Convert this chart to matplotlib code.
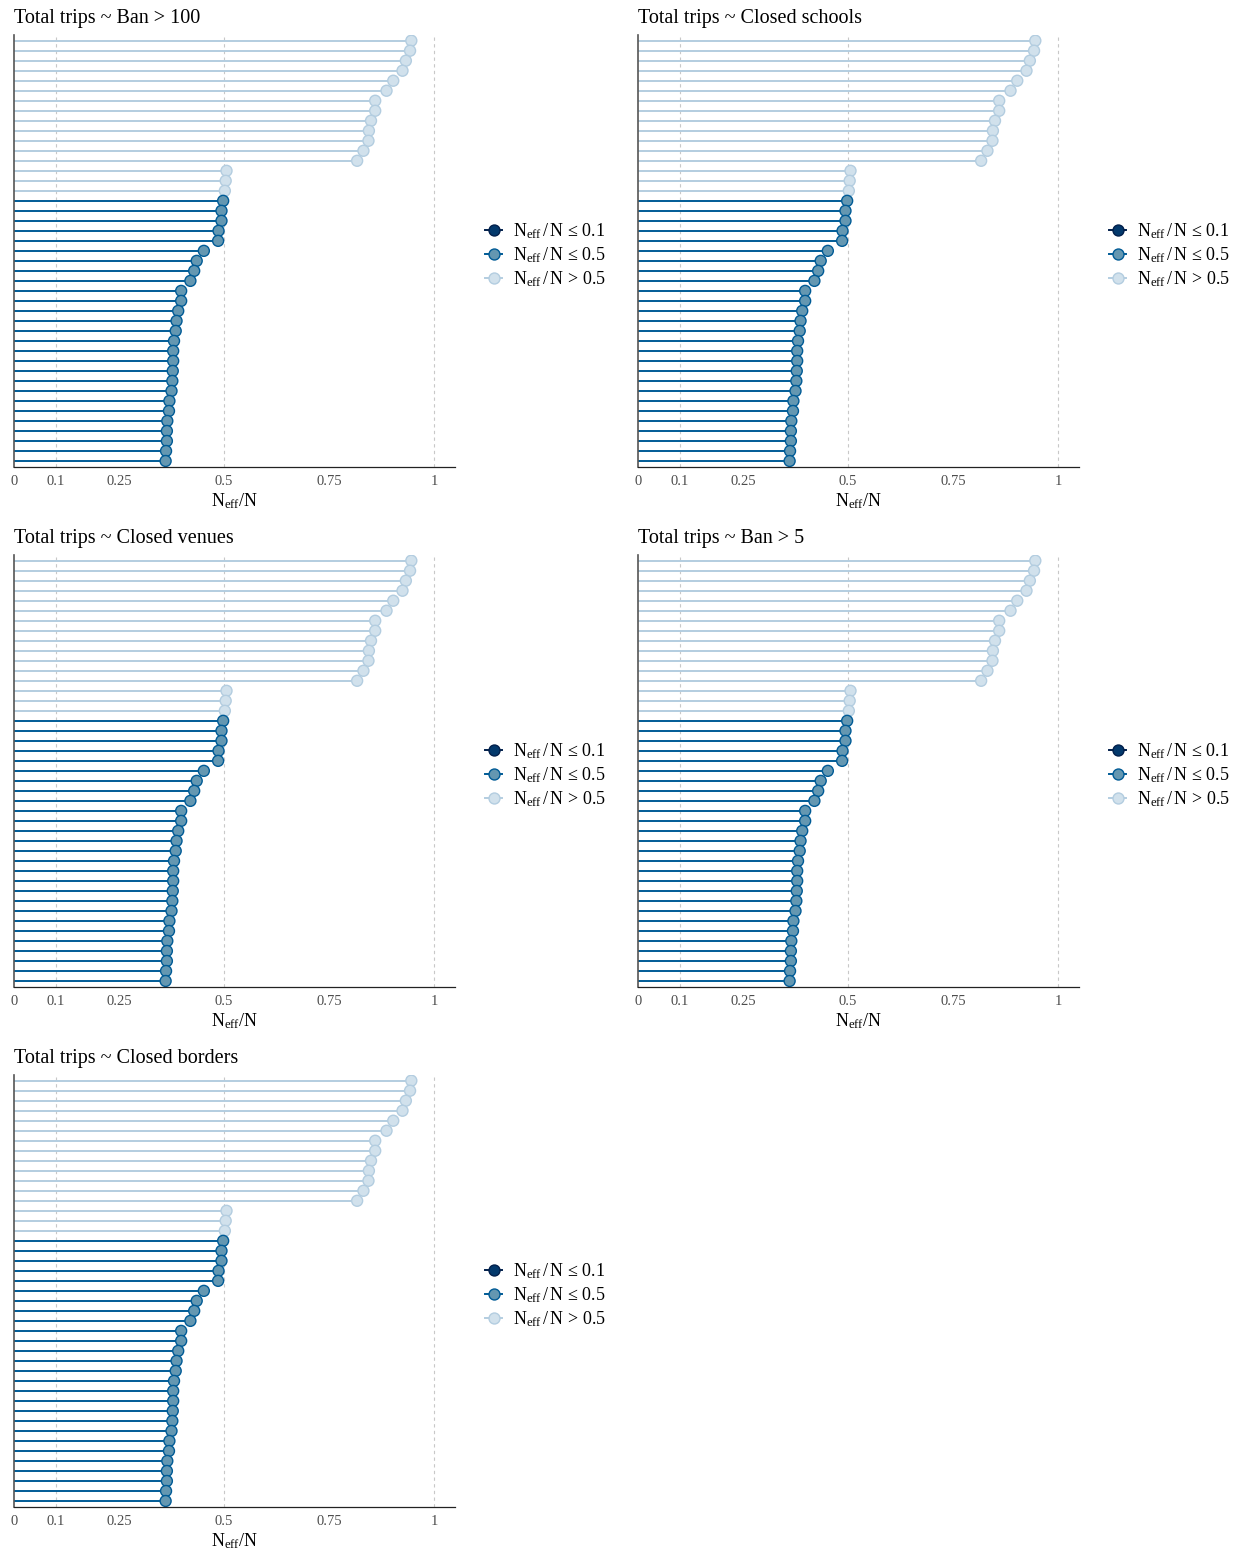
import matplotlib
matplotlib.use('Agg')
import matplotlib.pyplot as plt
from matplotlib.lines import Line2D
import numpy as np

plt.rcParams['font.family'] = ['Liberation Serif', 'DejaVu Serif']
plt.rcParams['mathtext.fontset'] = 'custom'
plt.rcParams['mathtext.rm'] = 'Liberation Serif'
plt.rcParams['mathtext.it'] = 'Liberation Serif:italic'

# titulos dos paineis
titles = ['Total trips ~ Ban > 100', 'Total trips ~ Closed schools',
          'Total trips ~ Closed venues', 'Total trips ~ Ban > 5',
          'Total trips ~ Closed borders']

# razao Neff/N por parametro (de cima para baixo), igual em todos os modelos
ratios = [0.946, 0.943, 0.933, 0.925, 0.903, 0.887, 0.860, 0.860, 0.850, 0.845,
          0.844, 0.832, 0.817, 0.506, 0.504, 0.502, 0.498, 0.494, 0.494, 0.487,
          0.486, 0.452, 0.435, 0.429, 0.420, 0.398, 0.398, 0.391, 0.387, 0.385,
          0.381, 0.379, 0.379, 0.378, 0.377, 0.375, 0.370, 0.369, 0.365, 0.364,
          0.364, 0.362, 0.361]

tick_vals = [0, 0.1, 0.25, 0.5, 0.75, 1]
tick_labels = ['0', '0.1', '0.25', '0.5', '0.75', '1']
legend_labels = [r'N$_{\mathrm{eff}}\,$/$\,$N ≤ 0.1', r'N$_{\mathrm{eff}}\,$/$\,$N ≤ 0.5',
                 r'N$_{\mathrm{eff}}\,$/$\,$N > 0.5']

# cores (esquema azul)
fill = {'low': '#03396c', 'mid': '#6497b1', 'high': '#d1e1ec'}
edge = {'low': '#011f4b', 'mid': '#005b96', 'high': '#b3cde0'}


def rating(r):
    if r <= 0.1:
        return 'low'
    if r <= 0.5:
        return 'mid'
    return 'high'


W, H = 1244, 1550
fig = plt.figure(figsize=(W / 100, H / 100), dpi=100)

# posicoes em pixels: (esquerda, topo)
pos = [(14, 35), (638, 35), (14, 555), (638, 555), (14, 1075)]
aw, ah = 441, 432

vals = np.array(ratios)
y = np.arange(len(vals), 0, -1)
cats = [rating(r) for r in vals]

for k, title in enumerate(titles):
    x0, t0 = pos[k]
    ax = fig.add_axes([x0 / W, 1 - (t0 + ah) / H, aw / W, ah / H])
    for v in [0.1, 0.5, 1]:
        ax.axvline(v, color='#c8c8c8', lw=0.8, ls=(0, (3, 3)), zorder=0)
    ax.hlines(y, 0, vals, colors=[edge[c] for c in cats], lw=1.4, zorder=1)
    ax.scatter(vals, y, s=7.9 ** 2, c=[fill[c] for c in cats],
               edgecolors=[edge[c] for c in cats], linewidths=1.0, zorder=2)
    ax.set_xlim(0, 1.05)
    ax.set_ylim(0.4, len(vals) + 0.57)
    ax.set_yticks([])
    ax.set_xticks(tick_vals)
    ax.set_xticklabels(tick_labels)
    ax.tick_params(axis='x', length=0, pad=6, labelsize=10.5, labelcolor='#4d4d4d')
    for s in ['top', 'right']:
        ax.spines[s].set_visible(False)
    ax.spines['left'].set_color('#555555')
    ax.spines['left'].set_linewidth(1.2)
    ax.spines['bottom'].set_color('#222222')
    ax.spines['bottom'].set_linewidth(0.9)
    ax.set_xlabel(r'N$_{\mathrm{eff}}$/N', fontsize=13, labelpad=2)
    ax.set_title(title, loc='left', fontsize=14.5, pad=9)

    handles = [Line2D([0], [0], color=edge[c], lw=1.4, marker='o', markersize=7.9,
                      markerfacecolor=fill[c], markeredgecolor=edge[c],
                      markeredgewidth=1.0) for c in ['low', 'mid', 'high']]
    ax.legend(handles, legend_labels, loc='center left', bbox_to_anchor=(1.048, 0.49),
              frameon=False, fontsize=13, handlelength=0.95, handletextpad=0.6,
              labelspacing=0.25, borderpad=0)

fig.savefig('out.png', dpi=100)
